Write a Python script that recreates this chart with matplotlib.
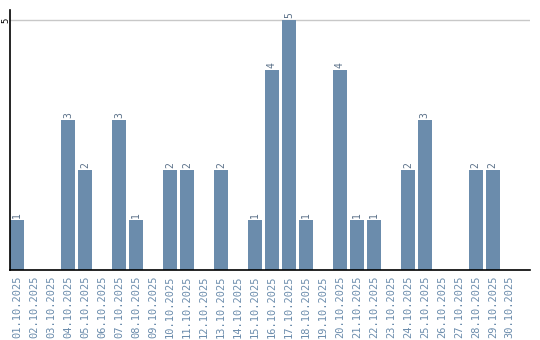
import matplotlib
matplotlib.use("Agg")
import matplotlib.pyplot as plt

days = ["%02d.10.2025" % d for d in range(1, 31)]
counts = [1, 0, 0, 3, 2, 0, 3, 1, 0, 2, 2, 0, 2, 0, 1, 4, 5, 1, 0, 4, 1, 1, 0, 2, 3, 0, 0, 2, 2, 0]

bar_color = "#6b8cac"

fig = plt.figure(figsize=(5.4, 3.4), dpi=100)
ax = fig.add_axes([10 / 540, 70 / 340, 520 / 540, 260 / 340])

x = list(range(len(days)))
ax.bar(x, counts, width=0.82, align="edge", color=bar_color, zorder=2)

for xi, c in zip(x, counts):
    if c > 0:
        ax.text(xi + 0.41, c + 0.05, str(c), rotation=90, ha="center", va="bottom",
                fontsize=7, color="#5a7088", family="DejaVu Sans Mono")

ax.set_xlim(0, 30.6)
ax.set_ylim(0, 5.2)
ax.axhline(5, color="#c8c8c8", lw=1, zorder=1)

ax.set_xticks([xi + 0.41 for xi in x])
ax.set_xticklabels(days, rotation=90, fontsize=7.5, color="#6b8cac", family="DejaVu Sans Mono")
ax.tick_params(axis="x", length=0, pad=4)
ax.set_yticks([5])
ax.set_yticklabels(["5"], rotation=90, fontsize=6.5, family="DejaVu Sans Mono", va="center")
ax.tick_params(axis="y", length=0, pad=0)

for s in ["top", "right"]:
    ax.spines[s].set_visible(False)
ax.spines["left"].set_linewidth(1.2)
ax.spines["bottom"].set_linewidth(1.2)

fig.savefig("out.png", dpi=100)
